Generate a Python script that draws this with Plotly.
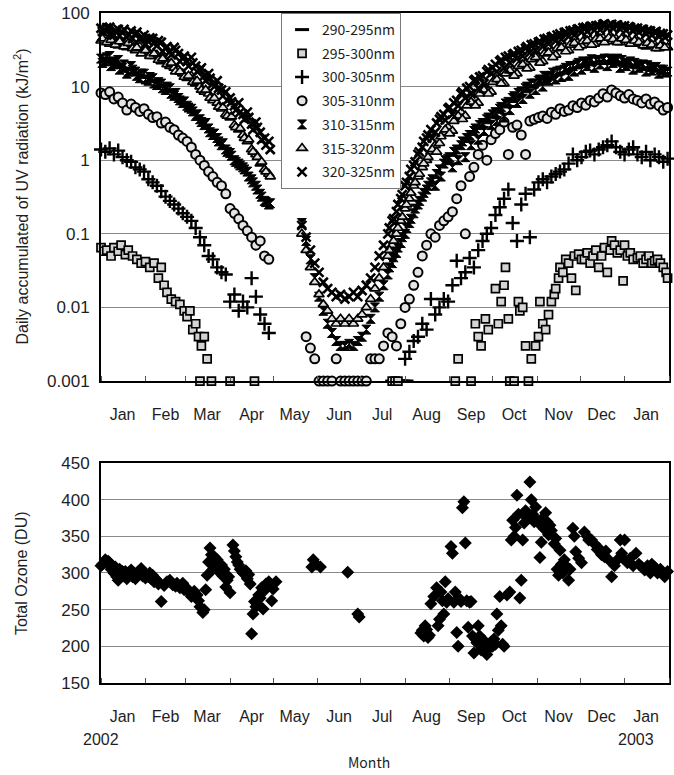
import pandas as pd
import plotly.graph_objects as go

BASE = pd.Timestamp("2002-01-01")

# ---------------- data (day offsets from 2002-01-01) ----------------
DAYS_SPRING = [0, 3, 6, 9, 12, 15, 18, 21, 24, 27, 30, 33, 36, 39, 42, 45, 48, 51, 54, 57,
               60, 63, 66, 69, 72, 75, 78, 81, 84, 87, 90, 93, 96, 99, 102, 105, 108, 111, 114, 117]
DAYS_SPRING_B = [1, 4, 7, 10, 13, 16, 19, 22, 25, 28, 31, 34, 37, 40, 43, 46, 49, 52, 55, 58,
                 61, 64, 67, 70, 73, 76, 79, 82, 85, 88, 91, 94, 97, 100, 103, 106, 109, 112, 115, 118]
DAYS_SUMMER = [140, 143, 146, 149, 152, 155, 158, 161, 164, 167, 170, 173, 176, 179, 182, 185,
               188, 191, 194, 197, 200, 203, 206, 209, 212, 215, 218, 221, 224, 227, 230, 233,
               236, 239, 242, 245, 248, 251, 254, 257, 260, 263, 266, 269, 272, 275, 278, 281,
               284, 287, 290, 293, 296, 299, 302, 305, 308, 311, 314, 317, 320, 323, 326, 329,
               332, 335, 338, 341, 344, 347, 350, 353, 356, 359, 362, 365, 368, 371, 374, 377,
               380, 383, 386, 389, 392, 395]
DAYS_SUMMER_B = [201, 204, 207, 210, 213, 216, 219, 222, 225, 228, 231, 234, 237, 240, 243, 246,
                 249, 252, 255, 258, 261, 264, 267, 270, 273, 276, 279, 282, 285, 288, 291, 294,
                 297, 300, 303, 306, 309, 312, 315, 318, 321, 324, 327, 330, 333, 336, 339, 342,
                 345, 348, 351, 354, 357, 360, 363, 366, 369, 372, 375, 378, 381, 384, 387, 390, 393]

UV320_SPRING = [62, 58, 64, 50, 60, 55, 47, 57, 52, 44, 50, 41, 45, 36, 40, 33, 30, 34, 28, 24,
                22, 25, 19, 17, 14, 15, 11, 12, 9, 8.5, 7, 5.5, 6, 4.2, 4.5, 3.1, 3.3, 2.4, 2.0, 1.8]
UV320_SPRING_B = [56, 63, 52, 58, 49, 60, 51, 45, 55, 47, 38, 46, 39, 42, 30, 35, 27, 31, 22, 26,
                  19, 21, 16, 18, 12, 13, 10, 9.5, 7.5, 6.5, 6.2, 4.8, 4.5, 3.6, 3.8, 2.6, 2.8,
                  1.9, 1.6, 1.4]
UV320_SUMMER = [0.13, 0.09, 0.06, 0.04, 0.03, 0.022, 0.018, 0.016, 0.014, 0.015,
                0.013, 0.014, 0.016, 0.014, 0.017, 0.02, 0.025, 0.035, 0.05, 0.07,
                0.1, 0.15, 0.2, 0.3, 0.45, 0.6, 0.85, 1.2, 1.5, 2.0,
                2.6, 2.4, 3.6, 4.2, 5.0, 4.2, 6.5, 8, 7, 10,
                12, 9.5, 14, 16, 15, 20, 22, 18, 26, 27,
                24, 31, 33, 29, 38, 40, 35, 45, 47, 42,
                52, 54, 48, 58, 60, 55, 64, 65, 58, 68,
                70, 62, 70, 68, 60, 67, 65, 57, 62, 60,
                52, 57, 55, 48, 52, 50]
UV320_SUMMER_B = [0.12, 0.16, 0.25, 0.34, 0.5, 0.75, 0.95, 1.3, 1.8, 2.2,
                  2.0, 3.2, 3.9, 3.5, 5.2, 6, 5.5, 8.5, 9.5, 8,
                  12.5, 13.5, 11, 17, 18, 16, 23, 25, 21, 28,
                  30, 26, 35, 37, 31, 41, 44, 38, 48, 50,
                  44, 55, 57, 50, 61, 63, 56, 66, 67, 59,
                  71, 68, 62, 69, 66, 58, 64, 62, 55, 60,
                  58, 50, 56, 53, 47]

UV315_SPRING = [42, 46, 38, 44, 36, 40, 34, 38, 31, 35, 29, 30, 26, 27, 22, 23, 19, 18, 17, 15,
                13, 14, 11, 10, 8.5, 8, 6.5, 6, 5, 4.2, 3.8, 3, 2.6, 2.2, 1.8, 1.4, 1.2, 0.9, 0.75, 0.65]
UV315_SPRING_B = [45, 40, 43, 37, 41, 35, 39, 33, 34, 28, 31, 26, 28, 23, 24, 20, 21, 16, 16, 13.5,
                  14, 11.5, 12, 9, 9, 7, 7, 5.3, 5.2, 4, 3.9, 2.8, 2.7, 2, 1.9, 1.3, 1.1, 0.95,
                  0.7, 0.6]
UV315_SUMMER = [0.1, 0.06, 0.035, 0.022, 0.015, 0.011, 0.009, 0.007, 0.006, 0.007,
                0.006, 0.007, 0.006, 0.007, 0.008, 0.01, 0.013, 0.018, 0.025, 0.035,
                0.05, 0.07, 0.1, 0.15, 0.22, 0.3, 0.45, 0.6, 0.8, 1.0,
                1.3, 1.6, 1.7, 2.4, 2.8, 2.5, 3.8, 4.5, 4.0, 6,
                7, 6, 8.5, 9.5, 8.5, 12, 13, 11, 16, 17,
                15, 19.5, 21, 18, 24, 26, 22, 29, 30, 27,
                34, 35, 31, 38, 40, 36, 42, 43, 38, 45,
                46, 41, 46, 45, 40, 44, 43, 38, 41, 40,
                35, 38, 37, 33, 35, 34]
UV315_SUMMER_B = [0.06, 0.08, 0.12, 0.17, 0.25, 0.36, 0.5, 0.65, 0.9, 1.1,
                  1.4, 1.3, 2.1, 2.6, 2.3, 3.4, 4.0, 3.6, 5.5, 6.2,
                  5.5, 8, 9, 8, 11.5, 12.5, 11, 15, 16.5, 14,
                  19, 20, 17.5, 23.5, 25, 21, 28, 29, 25, 33,
                  34, 30, 37, 39, 34, 41, 42, 37, 44, 45,
                  40, 46, 44, 40, 45, 43, 38, 42, 40, 36,
                  39, 37, 33, 36, 34]

UV310_SPRING = [24, 22, 26, 20, 23, 18, 15, 19, 16, 13, 15, 12, 13, 10.5, 11, 9, 9.5, 7.5, 7, 6,
                5.5, 5, 4, 3.6, 3, 2.7, 2.2, 2.0, 1.6, 1.4, 1.25, 1.0, 0.9, 0.8, 0.7, 0.55, 0.45,
                0.35, 0.28, 0.25]
UV310_SPRING_B = [21, 25, 19, 22, 17, 20, 16, 17, 14, 15, 12.5, 13.5, 11, 11.5, 9.5, 10, 8, 8.2,
                  6.5, 6.3, 5.2, 4.6, 4.2, 3.3, 3.2, 2.4, 2.3, 1.8, 1.7, 1.3, 1.15, 0.95, 0.85,
                  0.75, 0.6, 0.5, 0.4, 0.32, 0.27, 0.26]
UV310_SUMMER = [0.14, 0.08, 0.045, 0.025, 0.014, 0.009, 0.006, 0.0045, 0.0035, 0.003,
                0.003, 0.0032, 0.003, 0.0035, 0.004, 0.005, 0.007, 0.01, 0.014, 0.02,
                0.028, 0.04, 0.055, 0.075, 0.1, 0.14, 0.19, 0.25, 0.32, 0.4,
                0.5, 0.45, 0.75, 0.9, 1.05, 0.8, 1.4, 1.6, 1.1, 2.2,
                2.5, 1.9, 3.2, 3.6, 3.0, 4.5, 5.0, 3.8, 6.2, 7,
                6, 8.6, 9.5, 8, 11, 12, 10, 13.5, 14, 12.5,
                16.5, 17, 14, 19, 20, 17, 21, 22, 18, 23,
                23, 19, 23, 22, 18, 21, 20.5, 17, 20, 19,
                16, 18.5, 18, 15, 17, 16]
UV310_SUMMER_B = [0.035, 0.048, 0.065, 0.09, 0.12, 0.16, 0.22, 0.28, 0.36, 0.45,
                  0.55, 0.65, 0.6, 1.0, 1.1, 1.3, 1.0, 1.8, 2.0, 1.6,
                  2.7, 3.0, 2.5, 3.8, 4.2, 3.4, 5.3, 5.9, 4.8, 7.4,
                  8.2, 6.8, 10, 11, 9, 12.5, 14, 12, 15.5, 16,
                  13.5, 18, 19, 16, 21, 22, 19, 23.5, 23, 20,
                  24, 24, 21, 24, 23, 19, 22, 21, 18, 20,
                  19.5, 16.5, 18.5, 17, 15.5]

UV305_SPRING = [8.2, 7.8, 8.5, 6.8, 7.2, 6.0, 4.8, 5.8, 5.2, 4.6, 5.0, 4.2, 3.8, 3.9, 3.2, 3.3,
                2.8, 2.6, 2.2, 2.0, 1.8, 1.5, 1.2, 1.0, 0.85, 0.7, 0.6, 0.5, 0.45, 0.35, 0.22,
                0.19, 0.16, 0.13, 0.11, 0.09, 0.07, 0.08, 0.05, 0.045]
UV305_SUMMER = [0.004, 0.0028, 0.002, 0.001, 0.001, 0.001, 0.001, 0.002, 0.001,
                0.001, 0.001, 0.001, 0.001, 0.001, 0.001, 0.002, 0.002, 0.002, 0.003,
                0.0045, 0.004, 0.003, 0.006, 0.01, 0.013, 0.02, 0.03, 0.05, 0.07,
                0.1, 0.09, 0.13, 0.15, 0.17, 0.2, 0.3, 0.45, 0.1, 0.6,
                0.8, 1.2, 1.6, 1.0, 1.9, 2.3, 2.6, 3.3, 1.2, 2.8,
                3.0, 2.2, 1.2, 3.4, 3.6, 3.8, 4.0, 3.7, 4.5, 4.2,
                5.0, 4.6, 4.8, 5.5, 5.2, 6.0, 5.6, 6.5, 6.2, 7.0,
                8.0, 7.2, 9.0, 8.2, 7.5, 7.0, 7.8, 6.8, 6.5, 6.0,
                6.8, 5.8, 6.2, 5.5, 4.8, 5.2]

UV300_SPRING = [1.4, 1.3, 1.45, 1.2, 1.35, 1.1, 1.0, 0.95, 0.8, 0.75, 0.7, 0.55, 0.5, 0.45,
                0.38, 0.32, 0.28, 0.25, 0.22, 0.19, 0.17, 0.15, 0.12, 0.09, 0.07, 0.05, 0.045,
                0.035, 0.03, 0.028, 0.012, 0.015, 0.009, 0.012, 0.01, 0.025, 0.014, 0.008,
                0.006, 0.0045]
UV300_SUMMER = [0.002, 0.0025, 0.0035, 0.004, 0.006, 0.005, 0.013, 0.008, 0.01, 0.013,
                0.012, 0.02, 0.043, 0.025, 0.03, 0.047, 0.035, 0.06, 0.08, 0.1,
                0.12, 0.18, 0.23, 0.3, 0.4, 0.14, 0.08, 0.25, 0.35, 0.09,
                0.4, 0.5, 0.55, 0.5, 0.6, 0.65, 0.7, 0.75, 0.9, 1.2,
                1.0, 1.1, 1.3, 1.35, 1.2, 1.4, 1.5, 1.6, 1.8, 1.5,
                1.3, 1.2, 1.4, 1.5, 1.2, 1.1, 1.3, 1.0, 1.2, 1.1,
                0.95, 1.05]

UV295_DAYS = [0, 2, 4, 7, 9, 12, 14, 17, 19, 22, 25, 28, 31, 34, 37, 40, 42, 44, 46, 49,
              52, 55, 58, 60, 62, 64, 66, 68, 70, 72, 74, 69, 77, 90, 107,
              203, 205, 207, 247, 249, 258, 261, 263, 265, 268, 270, 275, 277, 279, 281,
              282, 284, 285, 288, 291, 292, 294, 296, 298, 300, 303, 305, 306, 308, 310,
              312, 314, 316, 317, 319, 320, 322, 324, 326, 328, 330, 331, 333, 335, 337,
              339, 341, 343, 345, 347, 349, 351, 353, 355, 356, 358, 360, 362, 364, 365,
              367, 369, 371, 374, 376, 378, 380, 382, 384, 386, 388, 390, 392, 394, 395]
UV295_VALS = [0.065, 0.058, 0.06, 0.05, 0.065, 0.058, 0.07, 0.052, 0.06, 0.05, 0.045, 0.04,
              0.042, 0.035, 0.04, 0.025, 0.035, 0.02, 0.016, 0.013, 0.012, 0.011, 0.009,
              0.0075, 0.009, 0.005, 0.006, 0.004, 0.003, 0.004, 0.002, 0.001, 0.001, 0.001, 0.001,
              0.001, 0.001, 0.001, 0.001, 0.002, 0.001, 0.006, 0.004, 0.003, 0.007, 0.005, 0.018,
              0.006, 0.012, 0.02, 0.035, 0.007, 0.001, 0.001, 0.012, 0.009, 0.01, 0.003, 0.001,
              0.002, 0.003, 0.004, 0.012, 0.006, 0.005, 0.008, 0.012, 0.015, 0.018, 0.025, 0.035,
              0.03, 0.045, 0.04, 0.025, 0.05, 0.017, 0.053, 0.045, 0.045, 0.055, 0.04, 0.05, 0.06,
              0.035, 0.05, 0.065, 0.03, 0.06, 0.08, 0.07, 0.055, 0.06, 0.023, 0.07, 0.05, 0.055,
              0.045, 0.047, 0.05, 0.04, 0.045, 0.05, 0.04, 0.043, 0.045, 0.04, 0.035, 0.03, 0.025]

UV290_DAYS = [203, 205, 207, 209, 211, 213]
UV290_VALS = [0.001, 0.001, 0.001, 0.001, 0.001, 0.001]

OZ_DAYS = [0, 1, 3, 4, 5, 6, 7, 8, 9, 10, 11, 12, 13, 14, 15, 16, 17, 18, 19, 20, 21, 22, 23, 24,
           25, 26, 27, 28, 29, 30, 31, 32, 33, 34, 35, 36, 37, 38, 39, 40, 42, 44, 46, 48, 50,
           52, 53, 55, 57, 58, 60, 62, 63, 65, 67, 68, 69, 71, 72, 73, 74, 75, 76, 77, 78, 79,
           80, 81, 82, 83, 84, 85, 86, 87, 88, 89, 90, 92, 93, 94, 95, 96, 97, 99, 101, 102,
           103, 104, 105, 106, 107, 108, 109, 110, 111, 112, 113, 114, 115, 117, 119, 120, 122,
           147, 148, 150, 153, 172, 179, 180,
           223, 224, 225, 226, 227, 228, 229, 230, 232, 234, 235, 236, 237, 238, 239, 240, 241,
           242, 244, 245, 246, 247, 248, 249, 250, 251, 252, 253, 254, 255, 256, 257, 258, 259,
           260, 261, 262, 263, 264, 265, 266, 267, 268, 269, 270, 271, 272, 273, 274, 275, 276,
           277, 278, 279, 280, 281, 283, 285, 286, 287, 288, 289, 290, 291, 292, 293, 294, 295,
           296, 297, 298, 299, 300, 301, 302, 303, 304, 305, 306, 307, 308, 309, 310, 311, 312,
           313, 314, 316, 317, 318, 319, 320, 321, 322, 323, 324, 326, 327, 329, 330, 331, 333,
           335, 337, 339, 340, 342, 344, 346, 347, 349, 351, 352, 354, 356, 358, 360, 362, 363,
           364, 365, 367, 369, 371, 373, 375, 377, 379, 381, 383, 384, 386, 388, 390, 392, 393, 395]
OZ_DU = [310, 312, 318, 315, 316, 314, 305, 310, 300, 308, 295, 290, 305, 298, 302, 296, 302, 292,
         300, 298, 304, 295, 300, 292, 298, 302, 299, 306, 296, 300, 293, 296, 295, 300, 292, 297,
         288, 292, 290, 285, 261, 283, 288, 290, 284, 282, 286, 280, 286, 277, 279, 272, 268, 275,
         270, 262, 254, 246, 250, 277, 297, 315, 334, 325, 305, 322, 312, 318, 308, 300, 311, 296,
         305, 281, 290, 295, 273, 338, 330, 322, 315, 311, 305, 300, 303, 292, 298, 285, 217, 244,
         261, 254, 258, 270, 266, 280, 251, 276, 285, 288, 262, 278, 288,
         308, 318, 312, 308, 301, 244, 240,
         218, 222, 214, 228, 223, 212, 215, 258, 268, 280, 228, 237, 274, 262, 244, 288, 260,
         265, 336, 327, 260, 274, 219, 200, 265, 261, 389, 397, 341, 262, 226, 260, 261, 214,
         191, 210, 205, 228, 214, 195, 200, 208, 196, 189, 202, 198, 206, 200, 210, 203, 244,
         222, 268, 228, 203, 200, 270, 274, 345, 372, 350, 362, 406, 380, 266, 290, 345, 368,
         385, 375, 378, 424, 400, 380, 370, 390, 372, 368, 321, 342, 375, 360, 382, 370, 352,
         365, 358, 340, 347, 305, 297, 331, 312, 300, 318, 310, 290, 305, 361, 350, 329, 320,
         314, 356, 350, 345, 345, 340, 332, 334, 325, 322, 330, 318, 295, 310, 318, 345, 327,
         320, 345, 314, 320, 310, 327, 312, 308, 304, 310, 300, 312, 308, 300, 305, 298, 295, 302]

MONTH_LABELS = ["Jan", "Feb", "Mar", "Apr", "May", "Jun", "Jul", "Aug", "Sep", "Oct", "Nov", "Dec", "Jan"]
MONTH_MIDS = ["2002-01-16", "2002-02-15", "2002-03-16", "2002-04-16", "2002-05-16", "2002-06-16",
              "2002-07-16", "2002-08-16", "2002-09-16", "2002-10-16", "2002-11-16", "2002-12-16",
              "2003-01-16"]
UV_TICKS = [0.001, 0.01, 0.1, 1, 10, 100]
UV_TICKTEXT = ["0.001", "0.01", "0.1", "1", "10", "100"]


def to_dates(days):
    return [BASE + pd.Timedelta(days=d) for d in days]


ARIAL = "Arial, Liberation Sans, sans-serif"
JP = "Noto Sans CJK JP, sans-serif"
INK = "#1e1e1e"

fig = go.Figure()

series = [
    ("290-295nm", UV290_DAYS, UV290_VALS,
     dict(symbol="line-ew", size=10, color="black", line=dict(width=3, color="black"))),
    ("295-300nm", UV295_DAYS, UV295_VALS,
     dict(symbol="square", size=8, color="#d4d4d4", line=dict(width=1.7, color="black"))),
    ("300-305nm", DAYS_SPRING + DAYS_SUMMER[24:], UV300_SPRING + UV300_SUMMER,
     dict(symbol="cross-thin", size=10, color="black", line=dict(width=2.4, color="black"))),
    ("305-310nm", DAYS_SPRING + DAYS_SUMMER[1:], UV305_SPRING + UV305_SUMMER,
     dict(symbol="circle", size=9, color="#e4e4e4", line=dict(width=2, color="black"))),
    ("310-315nm", DAYS_SPRING + DAYS_SUMMER + DAYS_SPRING_B + DAYS_SUMMER_B,
     UV310_SPRING + UV310_SUMMER + UV310_SPRING_B + UV310_SUMMER_B,
     dict(symbol="hourglass", size=9, color="black", line=dict(width=1, color="black"))),
    ("315-320nm", DAYS_SPRING + DAYS_SUMMER + DAYS_SPRING_B + DAYS_SUMMER_B,
     UV315_SPRING + UV315_SUMMER + UV315_SPRING_B + UV315_SUMMER_B,
     dict(symbol="triangle-up", size=9, color="#e0e0e0", line=dict(width=1.7, color="black"))),
    ("320-325nm", DAYS_SPRING + DAYS_SUMMER + DAYS_SPRING_B + DAYS_SUMMER_B,
     UV320_SPRING + UV320_SUMMER + UV320_SPRING_B + UV320_SUMMER_B,
     dict(symbol="x-thin", size=9, color="black", line=dict(width=2.6, color="black"))),
]

for name, days, vals, marker in series:
    fig.add_trace(go.Scatter(
        x=to_dates(days), y=vals, mode="markers", name=name, marker=marker,
        legendgroup=name, cliponaxis=False, xaxis="x", yaxis="y"))

fig.add_trace(go.Scatter(
    x=to_dates(OZ_DAYS), y=OZ_DU, mode="markers", showlegend=False,
    marker=dict(symbol="diamond", size=10, color="black"),
    cliponaxis=False, xaxis="x2", yaxis="y2"))

xcommon = dict(
    type="date", range=["2002-01-01", "2003-02-01"],
    tickmode="array", tickvals=MONTH_MIDS, ticktext=MONTH_LABELS, ticks="",
    showgrid=False, showline=True, linecolor="black", linewidth=2, mirror=True,
    tickfont=dict(family=ARIAL, size=16, color=INK),
    minor=dict(dtick="M1", tick0="2002-01-01", ticks="inside", ticklen=5,
               tickcolor="#555", tickwidth=1, showgrid=False),
    ticklabelstandoff=18,
)

fig.update_layout(
    width=674, height=775,
    margin=dict(l=101, r=3, t=13, b=92),
    paper_bgcolor="white", plot_bgcolor="white",
    showlegend=True,
    xaxis=dict(domain=[0, 1], anchor="y", **xcommon),
    xaxis2=dict(domain=[0, 1], anchor="y2", **xcommon),
    yaxis=dict(domain=[0.4507, 1], type="log", range=[-3, 2], tickmode="array",
               tickvals=UV_TICKS, ticktext=UV_TICKTEXT, ticks="",
               showgrid=True, gridcolor="#8a8a8a", gridwidth=1,
               showline=True, linecolor="black", linewidth=2, mirror=True,
               tickfont=dict(family=ARIAL, size=17, color=INK), ticklabelstandoff=6),
    yaxis2=dict(domain=[0, 0.3284], range=[150, 450], tickmode="array",
                tickvals=[150, 200, 250, 300, 350, 400, 450], ticks="",
                showgrid=True, gridcolor="#8a8a8a", gridwidth=1,
                showline=True, linecolor="black", linewidth=2, mirror=True,
                tickfont=dict(family=ARIAL, size=17, color=INK), ticklabelstandoff=6),
    legend=dict(x=0.317, y=1.0, xanchor="left", yanchor="top",
                bgcolor="white", bordercolor="#7a7a7a", borderwidth=1,
                font=dict(family=JP, size=14, color=INK),
                tracegroupgap=2.5, itemwidth=30, traceorder="grouped"),
    annotations=[
        dict(text="Daily accumulated of UV radiation (kJ/m<sup>2</sup>)", textangle=-90,
             xref="paper", yref="paper", x=-0.141, y=0.726, xanchor="center", yanchor="middle",
             showarrow=False, font=dict(family=ARIAL, size=16, color=INK)),
        dict(text="Total Ozone (DU)", textangle=-90,
             xref="paper", yref="paper", x=-0.141, y=0.164, xanchor="center", yanchor="middle",
             showarrow=False, font=dict(family=ARIAL, size=16, color=INK)),
        dict(text="2002", xref="x2", yref="paper", x="2002-01-01", y=-0.085,
             xanchor="center", yanchor="middle",
             showarrow=False, font=dict(family=ARIAL, size=16, color=INK)),
        dict(text="2003", xref="x2", yref="paper", x="2003-01-09", y=-0.085,
             xanchor="center", yanchor="middle",
             showarrow=False, font=dict(family=ARIAL, size=16, color=INK)),
        dict(text="Month", xref="paper", yref="paper", x=0.472, y=-0.118,
             xanchor="center", yanchor="middle",
             showarrow=False, font=dict(family=JP, size=14, color=INK)),
    ],
)

fig.write_html("out.html")
